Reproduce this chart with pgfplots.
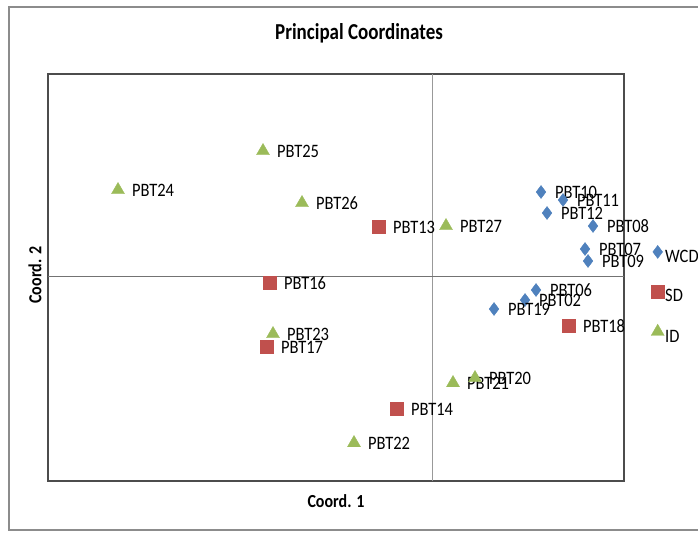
\documentclass[border=0pt]{standalone}
\usepackage{pgfplots}
\pgfplotsset{compat=1.18}
\usepackage{fontspec}
\setmainfont{Carlito}
\definecolor{wcd}{HTML}{4F81BD}
\definecolor{sdc}{HTML}{C0504D}
\definecolor{idc}{HTML}{9BBB59}
\newcommand{\lbl}[1]{\scalebox{1}[1.15]{#1}}
\begin{document}
\begin{tikzpicture}[x=1pt,y=1pt]
\useasboundingbox (0,0) rectangle (698,533);
\draw[black!45, line width=1.5pt] (9,3) rectangle (712,526);
\node[font=\bfseries\fontsize{19}{22}\selectfont] at (359,500) {\scalebox{1}[1.2]{Principal Coordinates}};
\node[font=\bfseries\fontsize{16}{19}\selectfont] at (336,32) {\scalebox{1}[1.15]{Coord. 1}};
\node[font=\bfseries\fontsize{16}{19}\selectfont, rotate=90] at (35,258) {\scalebox{1}[1.15]{Coord. 2}};
\begin{axis}[
  at={(48pt,52pt)}, anchor=south west,
  scale only axis, width=576pt, height=407pt,
  xmin=48, xmax=624, ymin=52, ymax=459,
  ticks=none,
  axis line style={draw=black!70, line width=1.2pt},
  clip=false,
  lab/.style={nodes near coords={\lbl{\pgfplotspointmeta}}, point meta=explicit symbolic,
    every node near coord/.append style={anchor=west, inner sep=0pt, xshift=14pt, font=\fontsize{16.5}{19}\selectfont, text=black}},
  legend style={draw=none, fill=none, at={(axis cs:648,238)}, anchor=west,
    font=\fontsize{16.5}{19}\selectfont, row sep=20pt,
    nodes={inner sep=1pt}},
  legend cell align=left,
  legend image code/.code={\path[#1] plot[only marks] coordinates {(4pt,5pt)};},
]
\addplot[black!40, line width=1pt, no marks, forget plot] coordinates {(432,52) (432,459)};
\addplot[black!55, line width=1pt, no marks, forget plot] coordinates {(48,256) (624,256)};

\addplot[only marks, mark=diamond*, mark size=6.5pt, color=wcd, lab]
table[meta=label] {
x y label
541 341 PBT10
563 333 PBT11
547 320 PBT12
593 307 PBT08
585 284 PBT07
588 272 PBT09
536 243 PBT06
525 233 PBT02
494 224 PBT19
};
\addlegendentry{\lbl{WCD}}

\addplot[only marks, mark=square*, mark size=6.5pt, color=sdc, lab]
table[meta=label] {
x y label
379 306 PBT13
270 250 PBT16
267 186 PBT17
397 124 PBT14
569 207 PBT18
};
\addlegendentry{\lbl{SD}}

\addplot[only marks, mark=triangle*, mark size=7.5pt, color=idc, lab]
table[meta=label] {
x y label
263 382 PBT25
118 343 PBT24
302 330 PBT26
446 307 PBT27
273 199 PBT23
453 150 PBT21
475 155 PBT20
354 90 PBT22
};
\addlegendentry{\lbl{ID}}
\end{axis}
\end{tikzpicture}
\end{document}
